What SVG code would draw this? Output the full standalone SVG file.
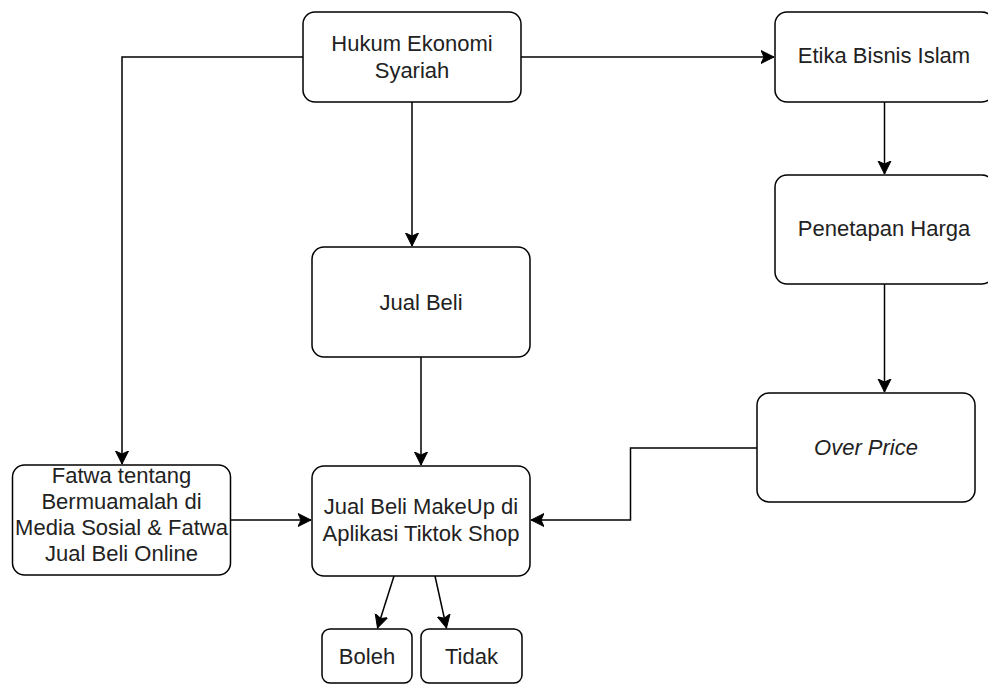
<svg xmlns="http://www.w3.org/2000/svg" width="988" height="684" viewBox="0 0 988 684">
  <style>
    .box { fill: #ffffff; stroke: #000000; stroke-width: 1.5; }
    .lbl { font-family: "Liberation Sans", Arial, sans-serif; font-size: 22px; fill: #222222; text-anchor: middle; }
    .it { font-style: italic; }
    .edge { fill: none; stroke: #000000; stroke-width: 1.5; marker-end: url(#arr); }
  </style>
  <defs>
    <marker id="arr" markerUnits="userSpaceOnUse" markerWidth="16" markerHeight="16" viewBox="-13 -8 16 16" refX="0" refY="0" orient="auto">
      <path d="M -13,-6.5 L 0,0 L -13,6.5 L -10,0 Z" fill="#000000" stroke="#000000" stroke-width="1"/>
    </marker>
  </defs>
  <rect width="988" height="684" fill="#ffffff"/>

  <g id="connectors">
    <path class="edge" d="M 303,57 L 122,57 L 122,464"/>
    <path class="edge" d="M 521,57 L 774,57"/>
    <path class="edge" d="M 412,102 L 412,246"/>
    <path class="edge" d="M 421,357 L 421,465"/>
    <path class="edge" d="M 231,520 L 311,520"/>
    <path class="edge" d="M 884.5,102 L 884.5,174"/>
    <path class="edge" d="M 884.5,284 L 884.5,392"/>
    <path class="edge" d="M 757,448 L 630.5,448 L 630.5,520 L 531,520"/>
    <path class="edge" d="M 394,576 L 377.5,628"/>
    <path class="edge" d="M 435,576 L 446.5,628"/>
  </g>

  <g id="hukum">
    <rect class="box" x="303" y="12" width="218" height="90" rx="12"/>
    <text class="lbl" x="412" y="51">Hukum Ekonomi</text>
    <text class="lbl" x="412" y="78">Syariah</text>
  </g>

  <g id="etika">
    <rect class="box" x="775" y="12" width="219" height="90" rx="12"/>
    <text class="lbl" x="884" y="63">Etika Bisnis Islam</text>
  </g>

  <g id="penetapan">
    <rect class="box" x="775" y="175" width="219" height="109" rx="12"/>
    <text class="lbl" x="884" y="236">Penetapan Harga</text>
  </g>

  <g id="jualbeli">
    <rect class="box" x="312" y="247" width="218" height="110" rx="12"/>
    <text class="lbl" x="421" y="310">Jual Beli</text>
  </g>

  <g id="overprice">
    <rect class="box" x="757" y="393" width="218" height="109" rx="12"/>
    <text class="lbl it" x="866" y="455">Over Price</text>
  </g>

  <g id="fatwa">
    <rect class="box" x="12.5" y="465" width="218" height="110" rx="12"/>
    <text class="lbl" x="121.5" y="483">Fatwa tentang</text>
    <text class="lbl" x="121.5" y="509">Bermuamalah di</text>
    <text class="lbl" x="121.5" y="535">Media Sosial &amp; Fatwa</text>
    <text class="lbl" x="121.5" y="561">Jual Beli Online</text>
  </g>

  <g id="makeup">
    <rect class="box" x="312" y="466" width="218" height="110" rx="12"/>
    <text class="lbl" x="421" y="514">Jual Beli MakeUp di</text>
    <text class="lbl" x="421" y="541">Aplikasi Tiktok Shop</text>
  </g>

  <g id="boleh">
    <rect class="box" x="322" y="629" width="90" height="54" rx="8"/>
    <text class="lbl" x="367" y="664">Boleh</text>
  </g>

  <g id="tidak">
    <rect class="box" x="421" y="629" width="101" height="54" rx="8"/>
    <text class="lbl" x="471.5" y="664">Tidak</text>
  </g>
</svg>
